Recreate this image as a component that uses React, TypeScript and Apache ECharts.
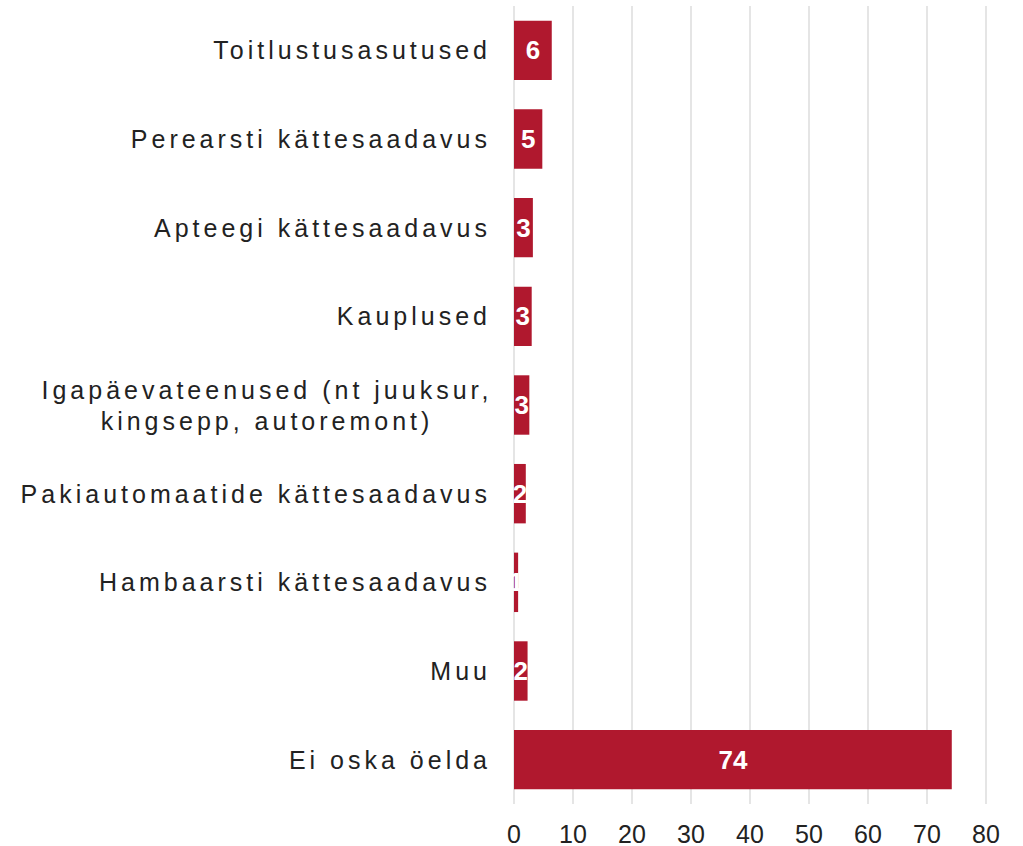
import React, { useEffect, useRef } from "react";
import * as echarts from "echarts";

const categories = [
  "Toitlustusasutused",
  "Perearsti kättesaadavus",
  "Apteegi kättesaadavus",
  "Kauplused",
  "Igapäevateenused (nt juuksur,\nkingsepp, autoremont)",
  "Pakiautomaatide kättesaadavus",
  "Hambaarsti kättesaadavus",
  "Muu",
  "Ei oska öelda",
];
const values = [6.4, 4.8, 3.2, 3.0, 2.6, 2.0, 0.7, 2.3, 74.2];
const xTicks = { min: 0, max: 80, interval: 10 };

const FONT = "Liberation Sans, Arial, sans-serif";
const CAT_FONT = "Liberation Sans, Helvetica, Arial, sans-serif";

export default function App() {
  const ref = useRef<HTMLDivElement>(null);
  useEffect(() => {
    if (!ref.current) return;
    const chart = echarts.init(ref.current, undefined, { renderer: "svg" });
    chart.setOption({
      animation: false,
      grid: { left: 514, right: 37, top: 6, bottom: 42, containLabel: false },
      xAxis: {
        type: "value",
        min: xTicks.min,
        max: xTicks.max,
        interval: xTicks.interval,
        axisLine: { show: false },
        axisTick: { show: false },
        splitLine: { show: true, lineStyle: { color: "#dcdcdc", width: 1.5 } },
        axisLabel: {
          color: "#222",
          fontSize: 25,
          fontFamily: FONT,
          margin: 17,
        },
      },
      yAxis: {
        type: "category",
        inverse: true,
        data: categories,
        axisLine: { show: false },
        axisTick: { show: false },
        axisLabel: {
          color: "#222",
          fontSize: 25,
          lineHeight: 31,
          fontFamily: CAT_FONT,
          margin: 23,
          align: "right",
          formatter: (v: string) =>
            v.includes("\n")
              ? v
                  .split("\n")
                  .map((l) => `{c|${l}}`)
                  .join("\n")
              : v,
          rich: {
            c: {
              width: 448,
              align: "center",
              color: "#222",
              fontSize: 25,
              lineHeight: 31,
              fontFamily: CAT_FONT,
            },
          },
        },
      },
      series: [
        {
          type: "bar",
          data: values,
          barCategoryGap: "33%",
          itemStyle: { color: "#B0182E" },
          label: {
            show: true,
            position: "inside",
            color: "#fff",
            fontWeight: "bold",
            fontSize: 26,
            fontFamily: FONT,
            formatter: (p: any) => String(Math.round(p.value)),
          },
        },
      ],
    });
    return () => chart.dispose();
  }, []);
  return (
    <>
      <style>{`.chartbox svg text[style*="Helvetica"] { letter-spacing: 4px; }`}</style>
      <div
        ref={ref}
        className="chartbox"
        style={{ position: "absolute", left: 0, top: 0, width: 1023, height: 846 }}
      />
    </>
  );
}
